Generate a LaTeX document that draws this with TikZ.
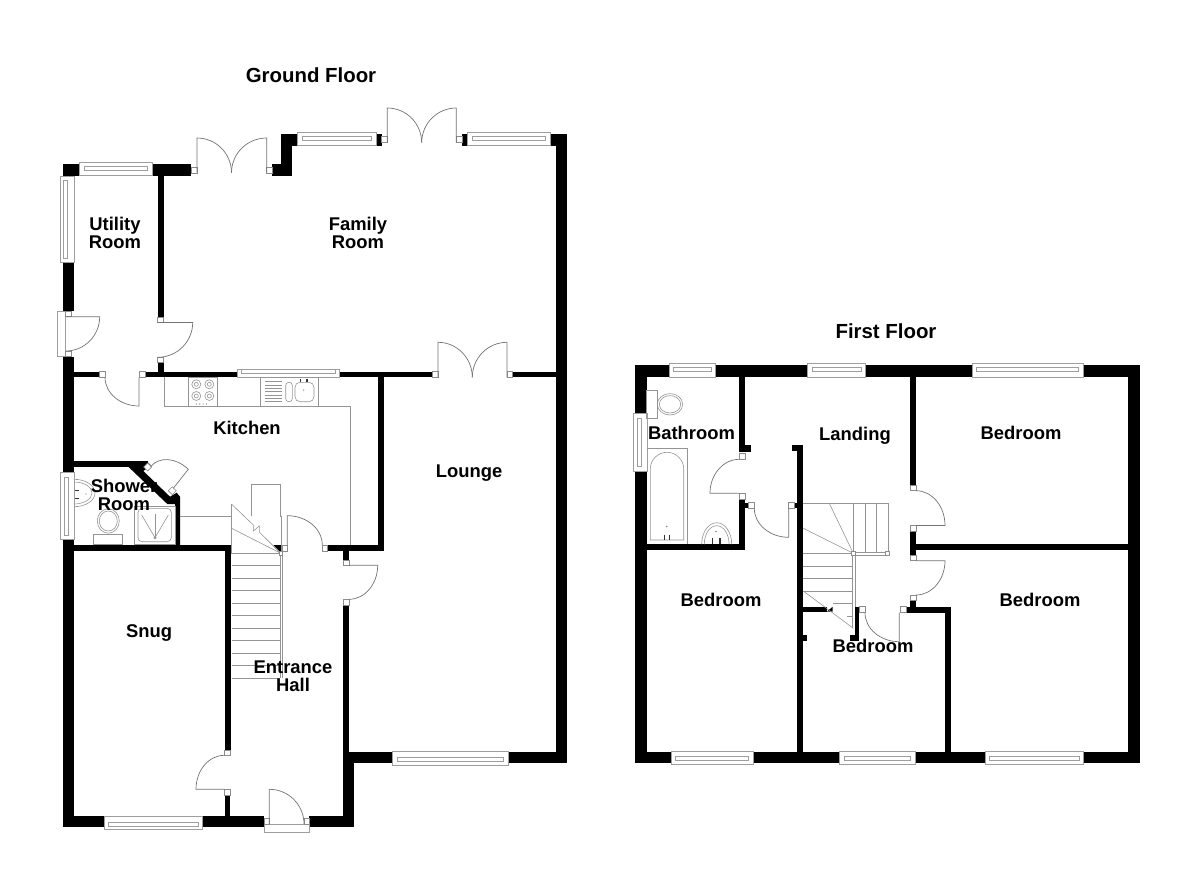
\documentclass[tikz,border=0pt]{standalone}
\usepackage{fontspec}
\setmainfont{Liberation Sans}
\usetikzlibrary{calc}
\tikzset{
  wall/.style={fill=black},
  frame/.style={draw=black!38,fill=white,line width=.6pt},
  jamb/.style={draw=black!45,fill=white,line width=.6pt},
  door/.style={draw=black!55,line width=.7pt},
  fitting/.style={draw=black!42,line width=.6pt},
  roomlabel/.style={font=\bfseries\fontsize{18.4}{18.2}\selectfont,align=center,text=black,inner sep=0pt},
  floorlabel/.style={font=\bfseries\fontsize{20.4}{20}\selectfont,text=black,inner sep=0pt}
}
\begin{document}
\begin{tikzpicture}[x=1pt,y=-1pt]
\useasboundingbox (0,0) rectangle (1200,872);
% walls
\foreach \xa/\ya/\xb/\yb in {63/164/191.3/176,62.7/176/74.3/311,62.7/356.7/74.3/827.3,157.7/176/163.7/317.3,
  272/164/292/176,281/134/292/176,281/134/381.6/146,462/134/567.3/146,555.7/134/567.3/763.3,349.3/751.7/567.3/763.3,
  343.3/605/349.3/763.3,343.3/751.7/354.3/827.3,309.3/816/354.3/827.3,62.7/816/264/827.3,224.8/795/230.3/816,
  224.8/545/230.5/750,74/545/231/550.7,74/461/148/466.7,74/371.7/99.3/377.3,145/371.7/432.3/377.3,512.7/371.7/556/377.3,
  157.7/362.7/163.7/377,378.3/372/384.3/550.7,327.7/545/384.3/550.7,343.3/550/349/560,
  635/365/1140.3/377.3,635/365/646.7/763.3,1128.3/365/1140.3/763.3,635/751.7/1140.3/763.3,
  739.3/377/745.3/451.7,739.3/445/750.7/451.7,739.3/499/745.3/550,745.3/502.7/748.3/508.3,646/544/745.3/550,
  797.3/445/803.3/763,791.7/445/803.3/451,794.7/502.7/797.3/508.3,910/377/916/485,910/531/916/555,916/544/1128.3/550,
  910/600.7/916/606.7,906/606.7/950.7/612.7,945/606.7/950.7/752,803.3/606.7/826.7/612.3,855/606.7/859.3/640.7,
  850/635.3/859.3/640.7,803.3/635/806.7/641}
  \fill[wall] (\xa,\ya) rectangle (\xb,\yb);
\fill[wall] (128.3,461) -- (146.8,461) -- (151,465.5) -- (143.3,471) -- (170,496.7) -- (176.7,492.7) -- (180,496.7)
  -- (180,545) -- (175,545) -- (175,504) -- (167.3,504) -- (128.3,466.7) -- cycle;
\fill[wall] (273.3,545) -- (282.3,545) -- (282.3,551) -- (279,551) -- cycle;
\fill[wall] (826.7,611.7) -- (832.7,606.7) -- (832.7,611.7) -- cycle;
% windows
\foreach \xa/\xb/\yo/\s in {79.3/152/162.3/1,297.7/376/132.3/1,467.3/550/132.3/1,392.7/508/765/-1,104/202.7/829.5/-1,
  669/715.7/363.3/1,807.7/865.7/363.3/1,972/1083/363.3/1,671/753/764.3/-1,839.3/915/764.3/-1,985/1083.3/764.3/-1} {
  \draw[frame] (\xa,\yo) rectangle (\xb,\yo+\s*13.5);
  \draw[frame] (\xa+4.5,\yo+\s*3.6) rectangle (\xb-4.5,\yo+\s*7.6);
}
\foreach \xo/\ya/\yb in {60/176/262.7,60.7/472.7/539.3,633.3/413.3/471} {
  \draw[frame] (\xo,\ya) rectangle (\xo+13.8,\yb);
  \draw[frame] (\xo+3.6,\ya+4.5) rectangle (\xo+7.6,\yb-4.5);
}
\draw[frame] (237.3,369.3) rectangle (339.3,377);
\draw[frame] (241,369.3) rectangle (335.5,373.3);
\draw[frame] (57.3,311) rectangle (65.7,356.7);
\draw[frame] (264,824) rectangle (309.3,832.3);
% door posts
\foreach \xa/\ya/\xb/\yb in {65.7/311/71.7/316.7,65.7/351/71.7/356.7,191.3/167/197/173,266.7/167/272/173,381.6/136.7/387.3/142.7,
  456.3/136.7/462/142.7,157.7/317.3/163.7/322.7,157.7/357.3/163.7/362.7,99.3/371.7/105/377.3,139/371.7/145/377.3,
  432.3/371.7/438/377.3,507/371.7/512.7/377.3,282.3/545/287.7/551,322.3/545/327.7/551,343.3/560/349/565.3,343.3/599.3/349/605,
  224.3/750/230.3/755.3,224.3/789.3/230.3/795,264/818/269.3/824,304/818/309.3/824,
  739.3/453.3/745.3/459.3,739.3/493.3/745.3/499,748.3/502.7/754.3/508.3,788.7/502.7/794.7/508.3,910/485/916/490.7,
  910/525.7/916/531,910/555/916/560.7,910/595/916/600.7,859.3/606.7/865/612.7,900/606.7/906/612.7}
  \draw[jamb] (\xa,\ya) rectangle (\xb,\yb);
\draw[jamb,rotate around={45:(147.7,467)}] (144.9,464.2) rectangle (150.5,469.8);
\draw[jamb,rotate around={45:(172.3,490.7)}] (169.5,487.9) rectangle (175.1,493.5);
% door leaves
\foreach \hx/\hy/\tx/\ty/\cx/\cy in {65.7/316.7/99.7/316.7/65.7/351,197/172.7/197/138/231.5/172.7,266.7/172.7/266.7/138/231.5/172.7,
  387.3/142.7/387.3/108/421.7/142.7,456.3/142.7/456.3/108/421.7/142.7,157.7/322.5/192.7/322.5/157.7/357.3,
  139/377.3/139/406/105/377.3,287.3/545/287.3/515.7/322.3/545,349/565.3/377.7/565.3/349/599.3,224.3/789.3/196/789.3/224.3/755.3,
  269.3/824/269.3/789.3/304/824,438/377.3/438/342.3/472.3/377.3,507/377.3/507/342.3/472.3/377.3,173.3/488.3/188.3/469.3/150.7/466.7,
  739.3/493.3/710/493.3/739.3/459.3,788.7/508.3/788.7/537.3/754.3/508.3,916/525.5/945/525.5/916/490.7,916/560.7/945/560.7/916/595,
  899.3/612.7/899.3/641.7/865/612.7}
  \draw[door] (\hx,\hy) -- (\tx,\ty)
    .. controls ($(\tx,\ty)+.5523*(\cx,\cy)-.5523*(\hx,\hy)$) and ($(\cx,\cy)+.5523*(\tx,\ty)-.5523*(\hx,\hy)$) .. (\cx,\cy);
% kitchen
\draw[fitting] (164.3,377.3) -- (164.3,406) -- (350,406) -- (350,545);
\draw[fitting] (180,516.3) -- (231.7,516.3);
\draw[fitting] (188.7,377.3) rectangle (217.3,406);
\draw[fitting] (260.3,377.3) rectangle (318.3,406);
\foreach \x in {196.3,209.3} \foreach \y in {384.3,396} {
  \draw[fitting] (\x,\y) circle (4.5pt);
  \draw[fitting] (\x,\y) circle (2pt);
}
\foreach \x in {196.3,199.7,...,209.3} \fill[black!60] (\x,404) circle (.6pt);
\foreach \y in {381.7,385,...,402} \draw[fitting] (265.3,\y) -- (281.7,\y);
\draw[fitting,rounded corners=3pt] (285.7,382.3) rectangle (292.3,401.7);
\draw[fitting,rounded corners=5pt] (295,382.3) rectangle (314,401.7);
\foreach \x in {300.3,307} \draw[black!80,line width=1.2pt] (\x,379) -- (\x,382.3);
\fill[black!60] (303.7,390) circle (.7pt);
% shower room
\draw[fitting] (74,479.3) arc[start angle=90,end angle=-90,x radius=21pt,y radius=13.7pt];
\draw[fitting] (74,482) arc[start angle=90,end angle=-90,x radius=18pt,y radius=11pt];
\foreach \y in {490,498} \draw[black!80,line width=1pt] (75,\y) -- (79,\y);
\fill[black!60] (86,494) circle (.7pt);
\draw[fitting] (108.3,521) ellipse (11pt and 12.2pt);
\draw[fitting] (108.3,521) ellipse (9pt and 10pt);
\draw[fitting] (93.3,534.3) rectangle (122.7,544.3);
\draw[fitting] (134.7,506.7) rectangle (175,544.6);
\draw[fitting,rounded corners=4pt] (138,508.3) rectangle (171.3,541.7);
\draw[fitting] (141.7,515) -- (155,537.7) -- (168.3,515);
\draw[fitting] (155,514) -- (155,537.7);
\draw[fitting] (155,537.7) circle (1.2pt);
% ground floor stairs
\draw[fitting] (231.7,504.3) -- (231.7,553.3) -- (280.7,553.3);
\draw[fitting] (231.7,504.3) -- (253.3,525) -- (253.3,531) -- (259.3,526) -- (259.3,532) -- (280.7,553.3);
\draw[fitting] (231.7,528.3) -- (280.7,553.3);
\draw[fitting] (251,516.3) -- (251,484) -- (280.7,484) -- (280.7,516.3) -- (281.7,516.3) -- (281.7,551);
\draw[fitting] (280,553.3) -- (280,678);
\draw[fitting] (282.3,553.3) -- (282.3,678);
\foreach \k in {1,...,10} \draw[fitting] (231.7,553.3+\k*12.45) -- (280,553.3+\k*12.45);
\draw[jamb] (279.3,551.7) rectangle (282.7,555);
% bathroom
\draw[fitting] (646.7,390) rectangle (657.7,418.3);
\draw[fitting] (670,404.3) ellipse (12.7pt and 10.7pt);
\draw[fitting] (670,404.3) ellipse (10.7pt and 8.7pt);
\draw[fitting] (646.7,448.3) -- (687.7,448.3) -- (687.7,544);
\draw[fitting] (650.3,540) -- (650.3,469) arc[start angle=180,end angle=0,radius=16.7pt] -- (683.7,540) -- cycle;
\foreach \x in {664.5,669.5} \draw[black!80,line width=1.2pt] (\x,534.5) -- (\x,540);
\fill[black!50] (666.7,526.5) circle (.8pt);
\draw[fitting] (701.7,544.3) arc[start angle=180,end angle=0,x radius=15pt,y radius=21.6pt];
\draw[fitting] (704.3,544.3) arc[start angle=180,end angle=0,x radius=12.4pt,y radius=18.6pt];
\foreach \x in {712.7,720} \draw[black!80,line width=1.2pt] (\x,538) -- (\x,544);
\fill[black!50] (716,531.5) circle (.8pt);
% first floor stairs
\draw[fitting] (803.3,503.3) -- (888.3,503.3) -- (888.3,552);
\foreach \x in {853.3,865,876.7} \draw[fitting] (\x,503.3) -- (\x,553.3);
\draw[fitting] (853.3,552) -- (888.3,552);
\draw[fitting] (853.3,555) -- (888.3,555);
\draw[fitting] (829.3,503.3) -- (853.3,553.3) -- (803.3,528.3);
\draw[fitting] (803.3,553.3) -- (853.3,553.3);
\foreach \y in {566,578.3,591} \draw[fitting] (803.3,\y) -- (852.5,\y);
\draw[fitting] (803.3,591) -- (853.3,628.3);
\draw[fitting] (832.7,603.3) -- (852.5,603.3);
\draw[fitting] (846.7,616) -- (852.5,616);
\draw[fitting] (852.5,555) -- (852.5,628);
\draw[fitting] (855.7,555) -- (855.7,606.7);
\draw[jamb] (851.7,551.5) rectangle (855.7,555.5);
\draw[jamb] (885.3,551.5) rectangle (889.3,555.5);
% labels
\node[floorlabel] (groundfloor) at (311,75) {Ground Floor};
\node[floorlabel] (firstfloor) at (886,331) {First Floor};
\node[roomlabel] (utility) at (115,233) {Utility\\Room};
\node[roomlabel] (family) at (358,233) {Family\\Room};
\node[roomlabel] (kitchen) at (247,428) {Kitchen};
\node[roomlabel] (lounge) at (469,473) {Lounge};
\node[roomlabel] (shower) at (124,495) {Shower\\Room};
\node[roomlabel] (snug) at (149,633) {Snug};
\node[roomlabel] (hall) at (293,676) {Entrance\\Hall};
\node[roomlabel] (bathroom) at (691.5,432.5) {Bathroom};
\node[roomlabel] (landing) at (855,436) {Landing};
\node[roomlabel] (bedrooma) at (1021,432.5) {Bedroom};
\node[roomlabel] (bedroomb) at (721,600) {Bedroom};
\node[roomlabel] (bedroomc) at (873,646) {Bedroom};
\node[roomlabel] (bedroomd) at (1040,599.5) {Bedroom};
\end{tikzpicture}
\end{document}
